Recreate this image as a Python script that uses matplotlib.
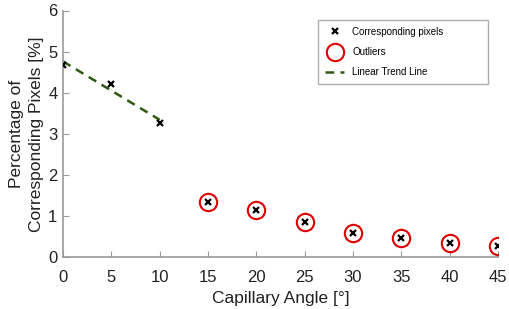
import numpy as np
import matplotlib
matplotlib.use("Agg")
import matplotlib.pyplot as plt

plt.rcParams['font.family'] = ['Liberation Sans', 'DejaVu Sans']

angles = [0, 5, 10, 15, 20, 25, 30, 35, 40, 45]
pixels = [4.68, 4.21, 3.26, 1.33, 1.15, 0.84, 0.58, 0.47, 0.35, 0.26]
outlier_angles = [15, 20, 25, 30, 35, 40, 45]
outlier_vals = [1.33, 1.15, 0.84, 0.58, 0.47, 0.35, 0.26]
trend_angles = [0, 5, 10]
trend_vals = [4.68, 4.21, 3.26]
xticks = [0, 5, 10, 15, 20, 25, 30, 35, 40, 45]
yticks = [0, 1, 2, 3, 4, 5, 6]

fig = plt.figure(figsize=(5.10, 3.09), dpi=100)
ax = fig.add_axes([63/510, 1 - 257/309, (498-63)/510, (257-10.5)/309])

coef = np.polyfit(trend_angles, trend_vals, 1)
tx = np.array([trend_angles[0], trend_angles[-1]])
ax.plot(angles, pixels, linestyle='none', marker='x', color='black',
        markersize=5, markeredgewidth=1.6, label='Corresponding pixels', zorder=4)
ax.plot(outlier_angles, outlier_vals, linestyle='none', marker='o', markersize=12.5,
        markerfacecolor='none', markeredgecolor='#e00000', markeredgewidth=1.5,
        label='Outliers', zorder=3)
ax.plot(tx, np.polyval(coef, tx), linestyle=(0, (3.5, 2.5)), color='#2e5a0e',
        linewidth=1.8, label='Linear Trend Line', zorder=2)

ax.set_xlim(0, 45)
ax.set_ylim(0, 6)
ax.set_xticks(xticks)
ax.set_yticks(yticks)
for s in ['top', 'right']:
    ax.spines[s].set_visible(False)
for s in ['left', 'bottom']:
    ax.spines[s].set_color('#999999')
    ax.spines[s].set_linewidth(1.2)
ax.tick_params(direction='in', length=4, color='#999999', labelsize=12,
               labelcolor='#222222')
ax.tick_params(axis='x', pad=9)
ax.tick_params(axis='y', pad=4)
ax.set_xlabel('Capillary Angle [°]', fontsize=12.5, color='#222222', labelpad=5)
ax.set_ylabel('Percentage of\nCorresponding Pixels [%]', fontsize=12.5,
              color='#222222', labelpad=3, linespacing=1.4)
for lab in ax.get_xticklabels() + ax.get_yticklabels():
    lab.set_clip_on(False)

leg = ax.legend(loc='upper left',
                bbox_to_anchor=(318/510, 1 - 80/309, 170/510, 60/309),
                bbox_transform=fig.transFigure, mode='expand',
                fontsize=7, frameon=True, fancybox=False, edgecolor='#999999',
                handlelength=2.0, borderpad=0.7, labelspacing=1.05,
                handletextpad=0.8, borderaxespad=0)
leg.get_frame().set_linewidth(1.0)

fig.savefig('out.png', dpi=100)
